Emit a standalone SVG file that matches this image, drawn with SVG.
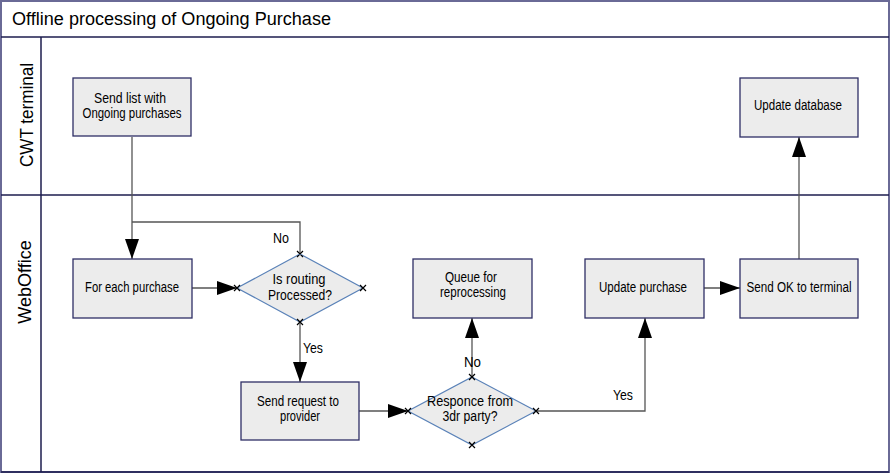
<svg xmlns="http://www.w3.org/2000/svg" width="892" height="474" viewBox="0 0 892 474">
<defs>
<style>
.frame{fill:none;stroke:#1c1c4e;stroke-width:1.5}
.outer{fill:#fff;stroke:#6a6a96;stroke-width:2}
.box{fill:#ececec;stroke:#2e2e66;stroke-width:1.3}
.dia{fill:#ececec;stroke:#5a82b8;stroke-width:1.2}
.con{fill:none;stroke:#555;stroke-width:1.3}
.x{stroke:#000;stroke-width:1.2}
text{font-family:"Liberation Sans",Arial,sans-serif;fill:#000}
.t{font-size:14px;text-anchor:middle}
.l{font-size:14px}
</style>
<marker id="ah" markerUnits="userSpaceOnUse" markerWidth="22" markerHeight="16" refX="20" refY="7" orient="auto">
<path d="M0,0 L20,7 L0,14 Z" fill="#000"/>
</marker>
</defs>
<g id="frame">
<rect class="outer" x="1" y="1" width="888" height="471"/>
<line class="frame" x1="1" y1="37" x2="889" y2="37"/>
<line class="frame" x1="41" y1="37" x2="41" y2="472"/>
<line class="frame" x1="1" y1="195" x2="889" y2="195"/>
<line class="frame" x1="1" y1="472" x2="889" y2="472"/>
<text x="12" y="25" font-size="18" textLength="319" lengthAdjust="spacingAndGlyphs">Offline processing of Ongoing Purchase</text>
<text transform="translate(33,115) rotate(-90)" font-size="18" text-anchor="middle" textLength="104" lengthAdjust="spacingAndGlyphs">CWT terminal</text>
<text transform="translate(31,282) rotate(-90)" font-size="18" text-anchor="middle">WebOffice</text>
</g>
<g id="connectors">
<path class="con" d="M132,137 V259" marker-end="url(#ah)"/>
<path class="con" d="M132,222 H300 V254"/>
<path class="con" d="M192,288 H237" marker-end="url(#ah)"/>
<path class="con" d="M300,322 V382" marker-end="url(#ah)"/>
<path class="con" d="M359,411 H408" marker-end="url(#ah)"/>
<path class="con" d="M472,377 V318" marker-end="url(#ah)"/>
<path class="con" d="M537,411 H645 V318" marker-end="url(#ah)"/>
<path class="con" d="M704,288 H740" marker-end="url(#ah)"/>
<path class="con" d="M799,259 V137" marker-end="url(#ah)"/>
<text class="l" x="273" y="243" textLength="16" lengthAdjust="spacingAndGlyphs">No</text>
<text class="l" x="303" y="353" textLength="20" lengthAdjust="spacingAndGlyphs">Yes</text>
<text class="l" x="464" y="367" textLength="17" lengthAdjust="spacingAndGlyphs">No</text>
<text class="l" x="613" y="400" textLength="20" lengthAdjust="spacingAndGlyphs">Yes</text>
</g>
<g id="n1">
<rect class="box" x="73" y="78" width="118" height="58"/>
<text class="t" x="130" y="103" textLength="72" lengthAdjust="spacingAndGlyphs">Send list with</text>
<text class="t" x="132" y="118" textLength="99" lengthAdjust="spacingAndGlyphs">Ongoing purchases</text>
</g>
<g id="n2">
<rect class="box" x="73" y="259" width="119" height="59"/>
<text class="t" x="132" y="292" textLength="94" lengthAdjust="spacingAndGlyphs">For each purchase</text>
</g>
<g id="d1">
<polygon class="dia" points="300,254 363,288 300,322 237,288"/>
<text class="t" x="299" y="284" textLength="53" lengthAdjust="spacingAndGlyphs">Is routing</text>
<text class="t" x="300" y="300" textLength="64" lengthAdjust="spacingAndGlyphs">Processed?</text>
<path class="x" d="M297,251 l6,6 M303,251 l-6,6 M360,285 l6,6 M366,285 l-6,6 M297,319 l6,6 M303,319 l-6,6 M234,285 l6,6 M240,285 l-6,6"/>
</g>
<g id="n3">
<rect class="box" x="241" y="382" width="118" height="58"/>
<text class="t" x="298" y="406" textLength="82" lengthAdjust="spacingAndGlyphs">Send request to</text>
<text class="t" x="300" y="421" textLength="40" lengthAdjust="spacingAndGlyphs">provider</text>
</g>
<g id="d2">
<polygon class="dia" points="472,377 536,411 472,445 408,411"/>
<text class="t" x="470" y="406" textLength="86" lengthAdjust="spacingAndGlyphs">Responce from</text>
<text class="t" x="470" y="421" textLength="55" lengthAdjust="spacingAndGlyphs">3dr party?</text>
<path class="x" d="M469,374 l6,6 M475,374 l-6,6 M533,408 l6,6 M539,408 l-6,6 M469,442 l6,6 M475,442 l-6,6 M405,408 l6,6 M411,408 l-6,6"/>
</g>
<g id="n4">
<rect class="box" x="413" y="259" width="119" height="59"/>
<text class="t" x="471" y="282" textLength="52" lengthAdjust="spacingAndGlyphs">Queue for</text>
<text class="t" x="473" y="297" textLength="66" lengthAdjust="spacingAndGlyphs">reprocessing</text>
</g>
<g id="n5">
<rect class="box" x="585" y="259" width="119" height="59"/>
<text class="t" x="643" y="292" textLength="88" lengthAdjust="spacingAndGlyphs">Update purchase</text>
</g>
<g id="n6">
<rect class="box" x="740" y="259" width="118" height="59"/>
<text class="t" x="799" y="292" textLength="105" lengthAdjust="spacingAndGlyphs">Send OK to terminal</text>
</g>
<g id="n7">
<rect class="box" x="740" y="78" width="118" height="59"/>
<text class="t" x="798" y="110" textLength="88" lengthAdjust="spacingAndGlyphs">Update database</text>
</g>
</svg>
